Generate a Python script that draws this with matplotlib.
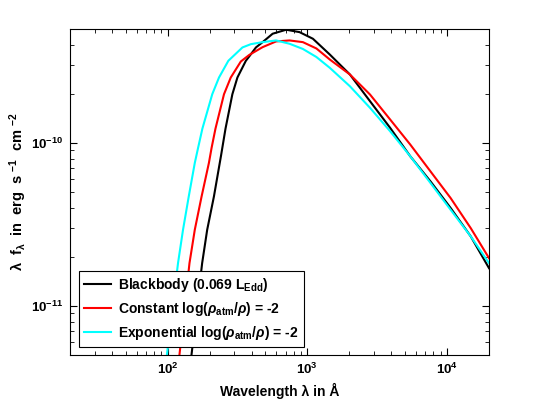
import matplotlib
matplotlib.use("Agg")
from matplotlib import pyplot as plt
from matplotlib.ticker import LogLocator, NullFormatter

# values (wavelength in Angstrom, lambda*f_lambda)
wl_black = [148.2, 176.7, 192.0, 214.6, 241.2, 259.7, 290.8, 316.0, 363.2, 383.8, 428.8,
            478.6, 564.8, 705.9, 879.9, 1097, 1448, 2018, 2813, 3922, 5466, 7619, 10620,
            14800, 20000]
f_black = [5.0e-12, 1.83e-11, 2.932e-11, 4.697e-11, 8.355e-11, 1.224e-10, 1.99e-10,
           2.52e-10, 3.191e-10, 3.392e-10, 3.853e-10, 4.153e-10, 4.677e-10, 4.949e-10,
           4.784e-10, 4.357e-10, 3.489e-10, 2.63e-10, 1.802e-10, 1.236e-10, 8.27e-11,
           5.81e-11, 3.99e-11, 2.67e-11, 1.705e-11]

wl_const = [121.5, 143.4, 156.5, 175.1, 197.5, 206.6, 220.1, 253.3, 283.2, 334.3, 383.8,
            478.6, 597.6, 745.6, 929.6, 1161, 1448, 2018, 2813, 3922, 5466, 7619, 10620,
            14800, 20000]
f_const = [5.0e-12, 1.83e-11, 2.932e-11, 4.697e-11, 7.537e-11, 9.357e-11, 1.224e-10,
           1.99e-10, 2.52e-10, 3.16e-10, 3.465e-10, 3.869e-10, 4.195e-10, 4.254e-10,
           4.153e-10, 3.799e-10, 3.251e-10, 2.63e-10, 1.981e-10, 1.391e-10, 9.76e-11,
           6.69e-11, 4.59e-11, 3.0e-11, 1.964e-11]

wl_exp = [98.8, 118.7, 128.9, 141.7, 156.5, 165.4, 177.4, 208.7, 233.3, 272.1, 343.3,
          394.8, 478.6, 597.6, 745.6, 929.6, 1161, 1448, 2018, 2813, 3922, 5466, 7619,
          10620, 14800, 20000]
f_exp = [5.0e-12, 1.83e-11, 2.932e-11, 4.697e-11, 7.537e-11, 9.357e-11, 1.224e-10,
         1.99e-10, 2.52e-10, 3.191e-10, 3.853e-10, 4.037e-10, 4.153e-10, 4.254e-10,
         4.06e-10, 3.772e-10, 3.368e-10, 2.891e-10, 2.228e-10, 1.641e-10, 1.178e-10,
         8.27e-11, 5.68e-11, 3.89e-11, 2.67e-11, 1.83e-11]

labels = [r"Blackbody (0.069 L$_{Edd}$)",
          r"Constant log($\mathit{\rho}_{atm}$/$\mathit{\rho}$) = -2",
          r"Exponential log($\mathit{\rho}_{atm}$/$\mathit{\rho}$) = -2"]

plt.rcParams["font.family"] = ["Liberation Sans", "DejaVu Sans"]
plt.rcParams["font.weight"] = "bold"
plt.rcParams["mathtext.fontset"] = "custom"
plt.rcParams["mathtext.rm"] = "Liberation Sans:bold"
plt.rcParams["mathtext.bf"] = "Liberation Sans:bold"
plt.rcParams["mathtext.it"] = "Liberation Sans:italic:bold"
plt.rcParams["mathtext.default"] = "rm"

fig = plt.figure(figsize=(5.4, 4), dpi=100)
ax = fig.add_axes([0.1296, 0.1125, 0.776, 0.815])

ax.plot(wl_black, f_black, color="black", lw=1.5, label=labels[0])
ax.plot(wl_const, f_const, color=(1, 0, 0), lw=1.5, label=labels[1])
ax.plot(wl_exp, f_exp, color=(0, 1, 1), lw=1.5, label=labels[2])

ax.set_xscale("log")
ax.set_yscale("log")
ax.set_xlim(20, 2e4)
ax.set_ylim(5e-12, 5e-10)

ax.xaxis.set_minor_locator(LogLocator(base=10, subs=range(2, 10)))
ax.yaxis.set_minor_locator(LogLocator(base=10, subs=range(2, 10)))
ax.xaxis.set_minor_formatter(NullFormatter())
ax.yaxis.set_minor_formatter(NullFormatter())
ax.tick_params(which="both", direction="in", top=True, right=True, labelsize=9.5)
ax.tick_params(which="major", length=5, width=0.8, pad=5)
ax.tick_params(which="minor", length=3, width=0.6)

ax.set_xlabel("Wavelength λ in Å", fontsize=10, fontweight="bold", labelpad=4)
ax.set_ylabel(r"λ  f$_λ$  in  erg  s $^{-1}$  cm $^{-2}$", fontsize=10.5,
              fontweight="bold", labelpad=1)

leg = ax.legend(loc="lower left", bbox_to_anchor=(0.021, 0.024), fontsize=10,
                frameon=True, fancybox=False, handlelength=2.0, handletextpad=0.5,
                borderpad=0.35, labelspacing=0.45, borderaxespad=0)
leg.get_frame().set_edgecolor("black")
leg.get_frame().set_linewidth(0.8)
leg.get_frame().set_alpha(1)

fig.savefig("out.png", dpi=100)
